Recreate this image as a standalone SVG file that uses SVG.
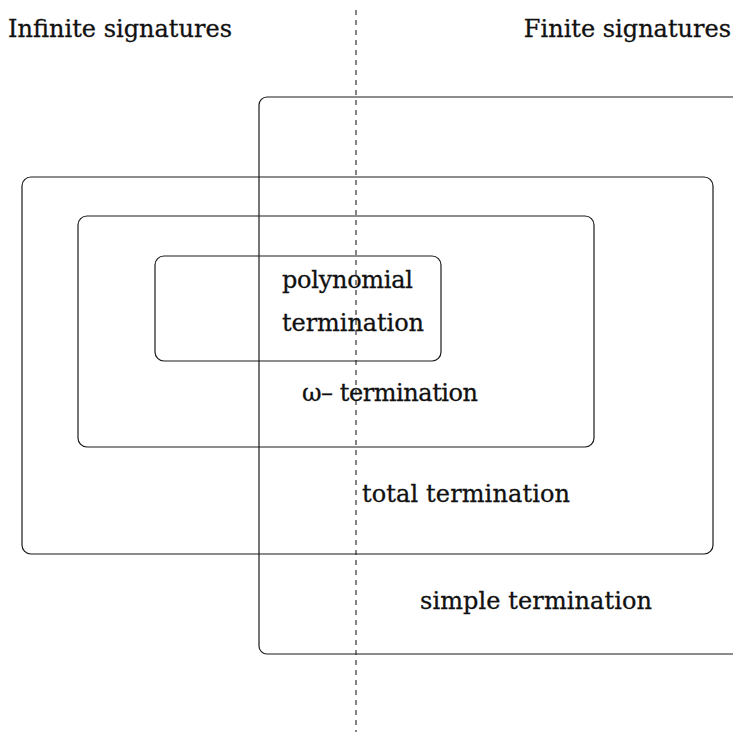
<svg xmlns="http://www.w3.org/2000/svg" width="733" height="732" viewBox="0 0 733 732">
<style>
.box{fill:none;stroke:#1a1a1a;stroke-width:1.2}
.t{font-family:"DejaVu Serif","Liberation Serif",serif;font-size:24px;fill:#111;stroke:#111;stroke-width:0.3}
.div{stroke:#333;stroke-width:1.2;stroke-dasharray:5 5;fill:none}
</style>
<rect width="733" height="732" fill="#fff"/>
<g id="connectors">
<line class="div" x1="356" y1="10" x2="356" y2="732"/>
</g>
<g id="simple">
<path class="box" d="M740 97 H267 A8 8 0 0 0 259 105 V646 A8 8 0 0 0 267 654 H740"/>
<text class="t" x="420" y="609" textLength="232">simple termination</text>
</g>
<g id="total">
<rect class="box" x="22" y="177" width="691" height="377" rx="9"/>
<text class="t" x="362" y="502" textLength="208">total termination</text>
</g>
<g id="omega">
<rect class="box" x="78" y="216" width="516" height="231" rx="9"/>
<text class="t" x="302" y="401" textLength="176">ω– termination</text>
</g>
<g id="poly">
<rect class="box" x="155" y="256" width="286" height="105" rx="9"/>
<text class="t" x="282" y="288" textLength="131">polynomial</text>
<text class="t" x="282" y="331" textLength="142">termination</text>
</g>
<g id="labels">
<text class="t" x="8" y="37" textLength="224">Infinite signatures</text>
<text class="t" x="731" y="37" text-anchor="end">Finite signatures</text>
</g>
</svg>
